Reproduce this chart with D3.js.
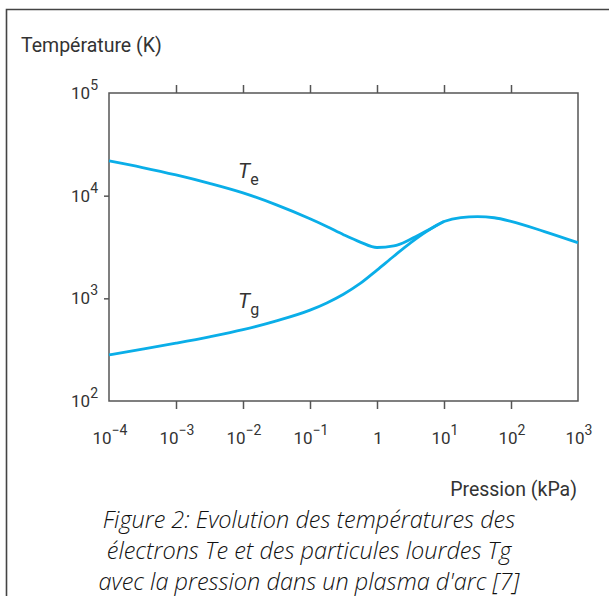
<!DOCTYPE html>
<html><head><meta charset="utf-8">
<script src="https://cdn.jsdelivr.net/npm/d3@7"></script>
<style>
html,body{margin:0;padding:0;background:#fff;}
svg{display:block;}
</style></head>
<body>
<script>
// Data (pressure in kPa, temperature in K)
const pressureTe = [1e-4, 3.16e-4, 1e-3, 3.16e-3, 1e-2, 3.16e-2, 1e-1, 0.178, 0.316, 0.562, 1, 1.78, 3.16, 5.62, 10, 17.8, 31.6, 56.2, 100, 316, 1000];
const tempTe     = [21780, 18790, 15920, 13180, 10640, 8130, 5957, 5012, 4169, 3532, 3126, 3236, 3758, 4571, 5598, 6124, 6252, 6095, 5623, 4470, 3480];
const pressureTg = [1e-4, 3.16e-4, 1e-3, 3.16e-3, 1e-2, 3.16e-2, 1e-1, 0.178, 0.316, 0.562, 1, 1.78, 3.16, 5.62, 10];
const tempTg     = [281, 320, 366, 422, 495, 603, 767, 902, 1096, 1396, 1884, 2570, 3467, 4519, 5598];
const xTicks = [1e-4, 1e-3, 1e-2, 1e-1, 1, 10, 100, 1000];
const xTickLabels = ["10|−4", "10|−3", "10|−2", "10|−1", "1", "10|1", "10|2", "10|3"];
const yTicks = [100, 1000, 10000, 100000];
const yTickLabels = ["10|2", "10|3", "10|4", "10|5"];
const captionLines = ["Figure 2: Evolution des températures des",
  "électrons Te et des particules lourdes Tg",
  "avec la pression dans un plasma d'arc [7]"];

const W = 609, H = 596;
const svg = d3.select("body").append("svg").attr("width", W).attr("height", H);
const font = "Roboto, 'Liberation Sans', Arial, sans-serif";
const axisColor = "#555";
const textColor = "#333";

// outer frame (top and left visible)
svg.append("path").attr("d", `M6.5,${H} L6.5,9.5 L${W},9.5`)
  .attr("fill", "none").attr("stroke", "#444").attr("stroke-width", 1.6);

const L = 109, R = 578, T = 93, B = 401;
const x = d3.scaleLog().domain([1e-4, 1e3]).range([L, R]);
const y = d3.scaleLog().domain([100, 1e5]).range([B, T]);

// plot frame
svg.append("rect").attr("x", L).attr("y", T).attr("width", R - L).attr("height", B - T)
  .attr("fill", "none").attr("stroke", axisColor).attr("stroke-width", 1.5);

const tickVals = xTicks.slice(1, -1);
const gb = svg.append("g").attr("transform", `translate(0,${B})`)
  .call(d3.axisBottom(x).tickValues(tickVals).tickSize(8).tickFormat(""));
const gt = svg.append("g").attr("transform", `translate(0,${T})`)
  .call(d3.axisTop(x).tickValues(tickVals).tickSize(8).tickFormat(""));
const gl = svg.append("g").attr("transform", `translate(${L},0)`)
  .call(d3.axisLeft(y).tickValues([1000, 10000]).tickSize(5).tickFormat(""));
[gb, gt, gl].forEach(g => {
  g.select(".domain").remove();
  g.selectAll("line").attr("stroke", axisColor).attr("stroke-width", 1.5);
});

function supLabel(sel, txt, xx, yy, anchor) {
  const [base, exp] = txt.split("|");
  const t = sel.append("text").attr("x", xx).attr("y", yy).attr("text-anchor", anchor)
    .attr("font-family", font).attr("font-size", 17).attr("fill", textColor);
  t.append("tspan").text(base);
  if (exp) t.append("tspan").attr("dy", -9).attr("font-size", 14).text(exp);
  return t;
}

xTicks.forEach((v, i) => supLabel(svg, xTickLabels[i], x(v) + 1, 444, "middle"));
yTicks.forEach((v, i) => supLabel(svg, yTickLabels[i], 98, y(v) + 6, "end"));

svg.append("text").attr("x", 21).attr("y", 51.5).attr("font-family", font).attr("font-size", 19.5)
  .attr("fill", textColor).text("Température (K)");
svg.append("text").attr("x", 577).attr("y", 496).attr("text-anchor", "end").attr("font-family", font)
  .attr("font-size", 19.5).attr("fill", textColor).text("Pression (kPa)");

// curves
const line = d3.line().x(d => x(d[0])).y(d => y(d[1])).curve(d3.curveMonotoneX);
const teData = pressureTe.map((p, i) => [p, tempTe[i]]);
const tgData = pressureTg.map((p, i) => [p, tempTg[i]]);
const curveColor = "#0aaee8";
svg.append("path").datum(tgData).attr("d", line).attr("fill", "none")
  .attr("stroke", curveColor).attr("stroke-width", 2.8);
svg.append("path").datum(teData).attr("d", line).attr("fill", "none")
  .attr("stroke", curveColor).attr("stroke-width", 2.8);

function curveLabel(xx, yy, sub) {
  const t = svg.append("text").attr("x", xx).attr("y", yy).attr("font-family", font)
    .attr("font-size", 21).attr("fill", textColor);
  t.append("tspan").attr("font-style", "italic").text("T");
  t.append("tspan").attr("dy", 7).attr("font-size", 16).text(sub);
}
curveLabel(238, 178, "e");
curveLabel(238, 308, "g");

captionLines.forEach((s, i) => {
  svg.append("text").attr("x", 309).attr("y", 528 + i * 31).attr("text-anchor", "middle")
    .attr("font-family", "'Open Sans', 'Noto Sans', sans-serif").attr("font-weight", 300)
    .attr("font-style", "italic").attr("font-size", 23.5).attr("fill", "#111").text(s);
});
</script>
</body></html>
